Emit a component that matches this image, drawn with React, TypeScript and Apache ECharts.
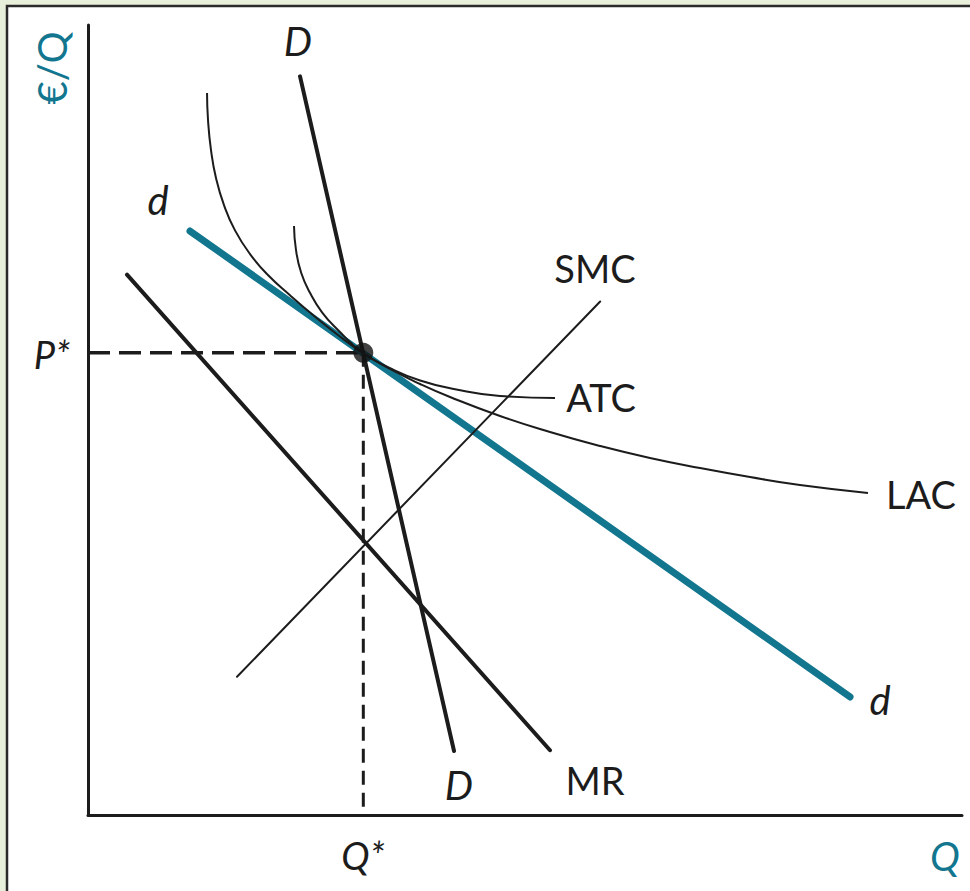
import React, { useEffect, useRef } from "react";
import * as echarts from "echarts";

// Equilibrium of a monopolistically competitive firm (Chamberlin diagram).
// Quantity runs 0–100 on the x axis, price 0–100 on the y axis.
const Q_STAR = 31.5;
const P_STAR = 58.5;

// Firm-perceived demand curve d
const perceivedDemand: number[][] = [
  [11.67, 73.92],
  [87.19, 14.94],
];

// Share-of-market demand curve D
const shareDemand: number[][] = [
  [24.26, 93.5],
  [41.88, 8.1],
];

// Marginal revenue
const marginalRevenue: number[][] = [
  [4.46, 68.4],
  [52.86, 8.2],
];

// Short-run marginal cost
const shortRunMC: number[][] = [
  [17.05, 17.5],
  [58.6, 65.0],
];

// Short-run average total cost
const averageTotalCost: number[][] = [
  [23.57, 74.56],
  [23.8, 71.5],
  [24.4, 68.6],
  [25.4, 66.1],
  [26.8, 63.6],
  [28.6, 61.4],
  [31.46, 58.48],
  [34.5, 56.6],
  [38.0, 55.0],
  [42.0, 53.9],
  [47.14, 53.04],
  [53.43, 52.78],
];

// Long-run average cost
const longRunAC: number[][] = [
  [13.62, 91.4],
  [13.73, 88.0],
  [14.07, 84.2],
  [14.65, 80.6],
  [15.56, 77.2],
  [16.82, 74.0],
  [18.54, 71.0],
  [20.59, 68.35],
  [23.11, 65.8],
  [25.74, 63.3],
  [28.6, 60.76],
  [31.46, 58.48],
  [34.55, 56.46],
  [37.99, 54.56],
  [41.42, 52.91],
  [47.14, 50.51],
  [52.86, 48.48],
  [58.58, 46.71],
  [64.3, 45.19],
  [70.02, 43.92],
  [75.74, 42.78],
  [81.46, 41.77],
  [89.24, 40.76],
];

const TEAL = "#13768f";
const INK = "#1c1c1c";
const FONT = "Lato";

function label(
  text: string,
  x: number,
  y: number,
  opts: { italic?: boolean; size?: number; color?: string; align?: string; rotation?: number } = {}
) {
  const size = opts.size ?? 38;
  return {
    type: "text",
    x,
    y,
    rotation: opts.rotation ?? 0,
    z: 20,
    style: {
      text,
      font: `${opts.italic ? "italic " : ""}${size}px ${FONT}`,
      fill: opts.color ?? INK,
      textAlign: opts.align ?? "center",
      textVerticalAlign: "middle",
    },
  };
}

function straight(name: string, data: number[][], width: number, color = INK) {
  return {
    name,
    type: "line",
    data,
    symbol: "none",
    z: width > 5 ? 3 : 4,
    lineStyle: { color, width, cap: "round" },
  };
}

function costCurve(name: string, data: number[][]) {
  return {
    name,
    type: "line",
    data,
    symbol: "none",
    smooth: 0.5,
    z: 4,
    lineStyle: { color: INK, width: 2 },
  };
}

export default function App() {
  const ref = useRef<HTMLDivElement>(null);

  useEffect(() => {
    if (!ref.current) return;
    const chart = echarts.init(ref.current, undefined, { renderer: "svg" });

    const axisCommon = {
      type: "value",
      min: 0,
      max: 100,
      axisLine: { show: true, onZero: false, lineStyle: { color: INK, width: 3 } },
      axisTick: { show: false },
      axisLabel: { show: false },
      splitLine: { show: false },
    };

    chart.setOption({
      animation: false,
      backgroundColor: "#e8efda",
      grid: { left: 88, right: 8, top: 25, bottom: 76, containLabel: false },
      xAxis: { ...axisCommon },
      yAxis: { ...axisCommon },
      graphic: [
        {
          type: "rect",
          z: -10,
          silent: true,
          shape: { x: 7, y: 6, width: 990, height: 900 },
          style: { fill: "#ffffff", stroke: "#2a2a2a", lineWidth: 2.5 },
        },
        label("€/Q", 52, 68, { color: TEAL, rotation: Math.PI / 2, size: 40 }),
        label("D", 298, 41, { italic: true, size: 40 }),
        label("d", 158, 200, { italic: true, size: 40 }),
        label("SMC", 595, 268),
        label("ATC", 601, 397),
        label("LAC", 921, 494),
        label("d", 880, 700, { italic: true, size: 40 }),
        label("D", 459, 785, { italic: true, size: 40 }),
        label("MR", 595, 780),
        label("P*", 52, 354, { italic: true }),
        label("Q*", 363, 855, { italic: true }),
        label("Q", 945, 856, { italic: true, color: TEAL, size: 40 }),
      ],
      series: [
        {
          name: "P* guide",
          type: "line",
          data: [
            [0, P_STAR],
            [Q_STAR, P_STAR],
          ],
          symbol: "none",
          z: 2,
          lineStyle: { color: INK, width: 3.5, type: [22, 9] },
        },
        {
          name: "Q* guide",
          type: "line",
          data: [
            [Q_STAR, P_STAR],
            [Q_STAR, 0],
          ],
          symbol: "none",
          z: 2,
          lineStyle: { color: INK, width: 3, type: [14, 8] },
        },
        straight("d", perceivedDemand, 7, TEAL),
        straight("D", shareDemand, 4),
        straight("MR", marginalRevenue, 4),
        straight("SMC", shortRunMC, 2),
        costCurve("ATC", averageTotalCost),
        costCurve("LAC", longRunAC),
        {
          name: "Equilibrium",
          type: "scatter",
          data: [[Q_STAR, P_STAR]],
          symbol: "circle",
          symbolSize: 20,
          z: 6,
          itemStyle: { color: "#111111" },
        },
      ],
    });

    return () => chart.dispose();
  }, []);

  return (
    <div
      ref={ref}
      style={{ position: "fixed", left: 0, top: 0, width: 970, height: 891 }}
    />
  );
}
